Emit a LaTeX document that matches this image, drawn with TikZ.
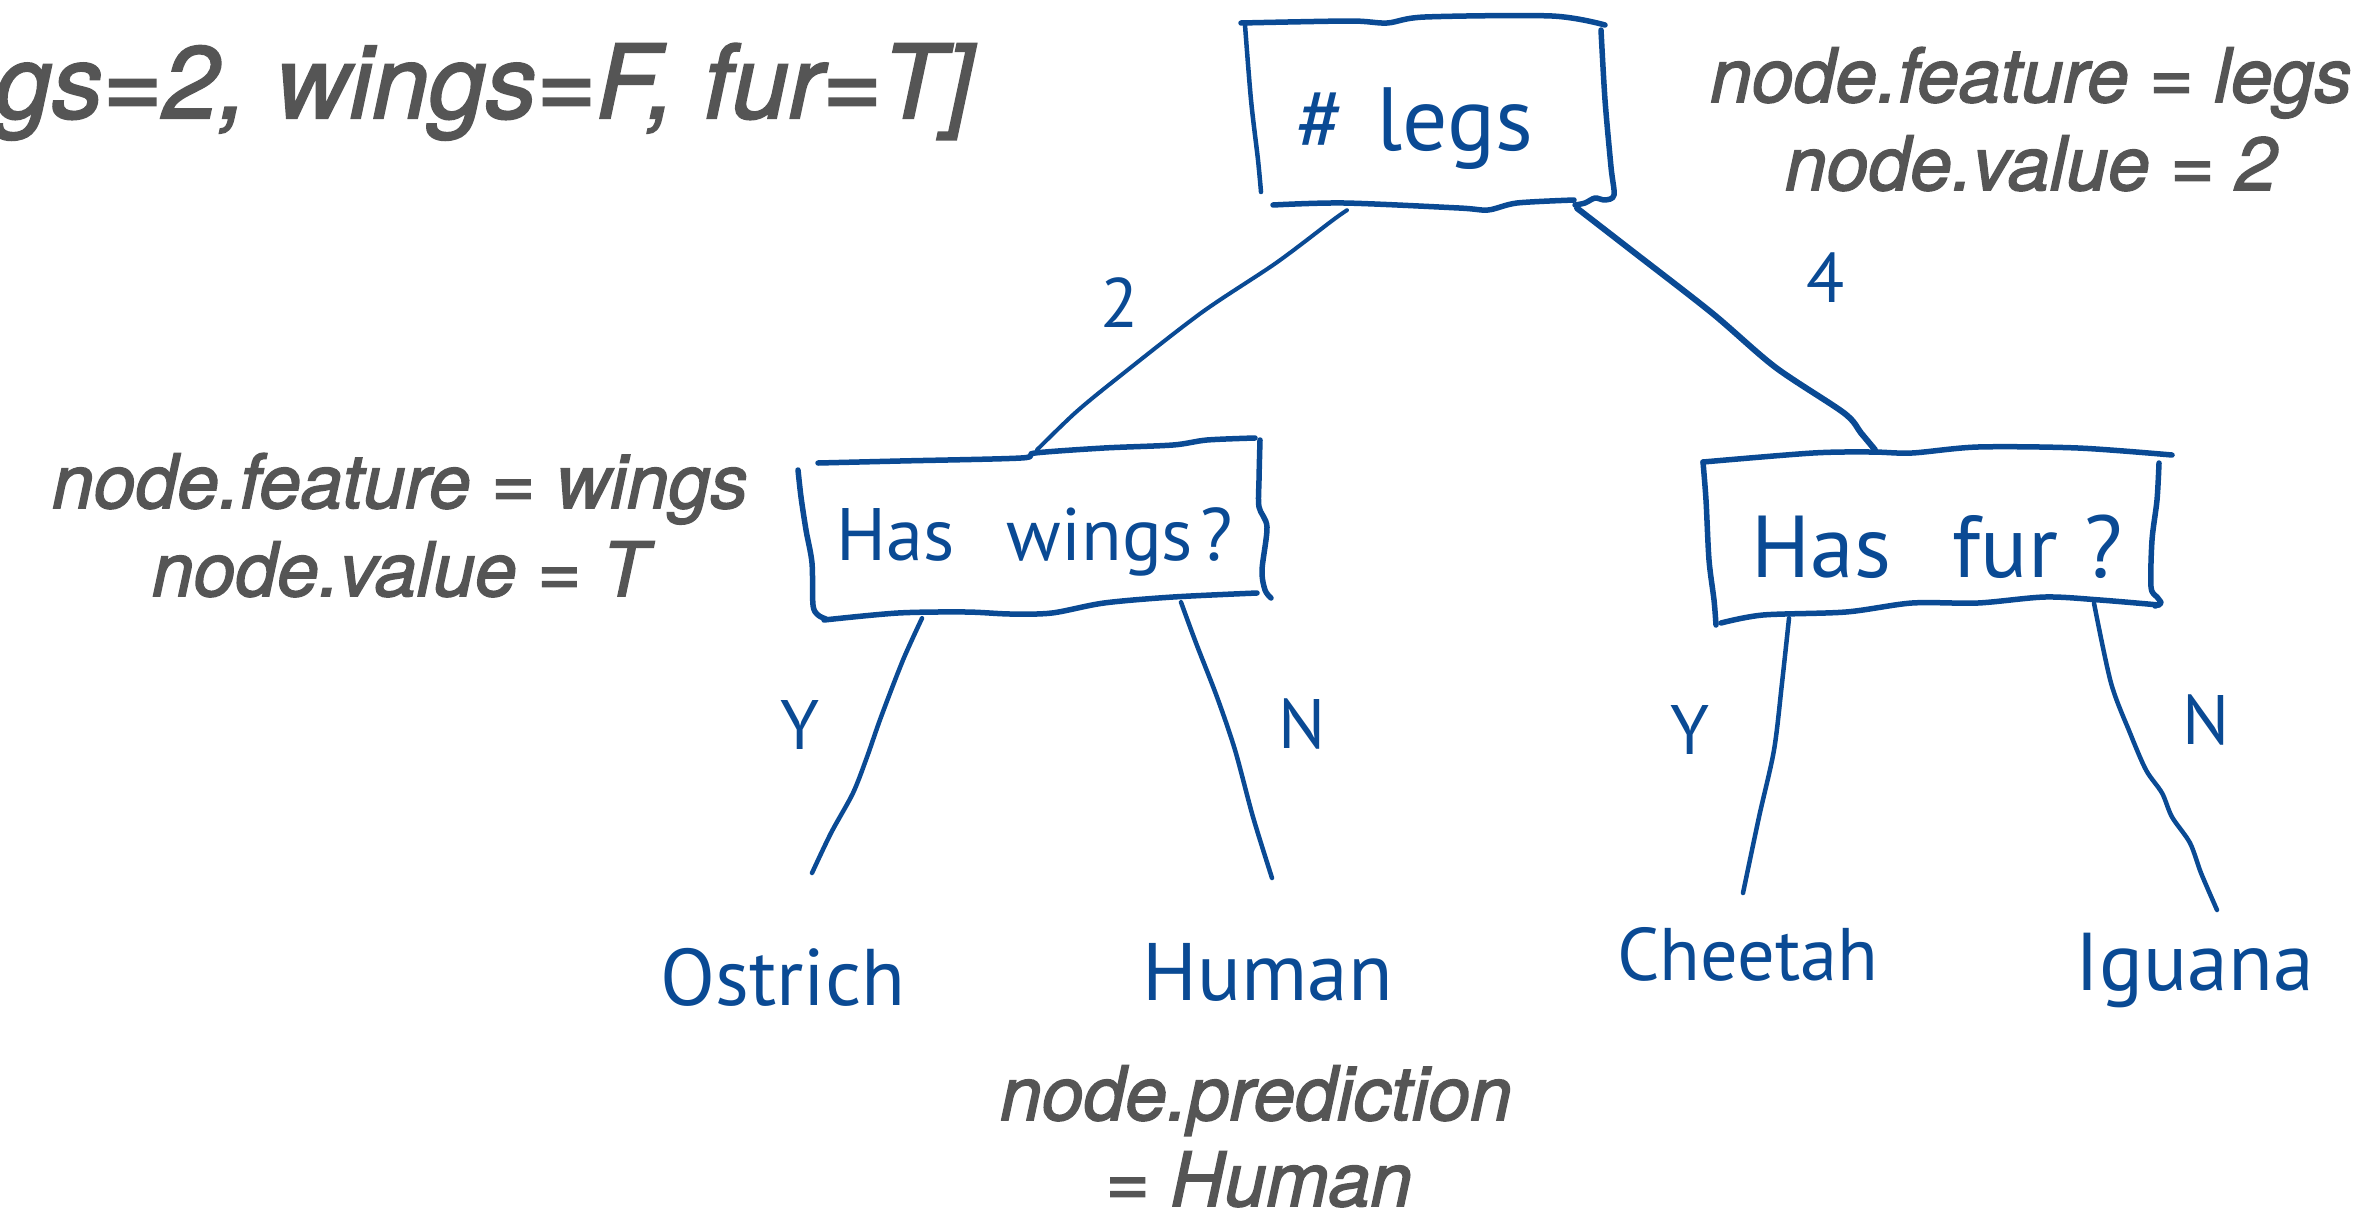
\documentclass[tikz,border=0pt]{standalone}
\usepackage{fontspec}
\usepackage{graphicx}
\setmainfont{TeX Gyre Heros}
\newfontfamily\notefont{TeX Gyre Heros}[FakeBold=2]
\newfontfamily\handfont{PT Sans}
\usetikzlibrary{calc}

\definecolor{inkblue}{RGB}{10,74,148}
\definecolor{notegray}{RGB}{85,85,85}

\tikzset{
  ink/.style={draw=inkblue, line width=5.5pt, line cap=round, line join=round},
  branch/.style={draw=inkblue, line width=4.5pt, line cap=round, line join=round},
  note/.style={text=notegray, inner sep=0pt, anchor=base,
    font=\notefont\itshape\fontsize{75}{88}\selectfont},
  hand/.style={text=inkblue, inner sep=0pt, font=\handfont},
  leaf/.style={hand, anchor=base},
  answer/.style={hand, font=\handfont\fontsize{70}{70}\selectfont},
  question/.style={hand, draw=none},
}

\begin{document}
\begin{tikzpicture}[x=1pt,y=-1pt]
  \fill[white] (0,0) rectangle (2377,1218);
  \useasboundingbox (0,0) rectangle (2377,1218);

  % query record, partly outside the page on the left
  \node[note, anchor=base east, font=\notefont\itshape\fontsize{102}{110}\selectfont]
    (query) at (973,118) {gs=2, wings=F, fur=T]};

  % decision nodes
  \node[question, minimum width=360pt, minimum height=180pt,
        text height=100pt, text depth=24pt] (root) at (1430,112)
        {\hspace*{-30pt}\resizebox{237pt}{!}{\#\hspace{0.35em}legs}};
  \node[question, minimum width=473pt, minimum height=182pt,
        text height=100pt, text depth=38pt] (wings) at (1035,529)
        {\resizebox{396pt}{!}{Has\hspace{0.7em}wings\hspace{0.1em}?}};
  \node[question, minimum width=469pt, minimum height=178pt,
        text height=100pt, text depth=18pt] (fur) at (1937,536)
        {\resizebox{371pt}{!}{Has\hspace{0.7em}fur\hspace{0.3em}?}};

  % hand-drawn outlines of the decision boxes
  \begin{scope}[shift={(root.center)}]
    \draw[ink] plot[smooth] coordinates {(-189,-89) (-80,-91) (-43,-89) (-5,-95) (122,-96) (175,-87)};
    \draw[ink, line width=4.5pt] plot[smooth] coordinates {(-185,-87) (-179,-12) (-172,48) (-169,80)};
    \draw[ink] plot[smooth] coordinates {(171,-82) (175,-12) (181,55) (184,83) (175,88) (165,86) (155,91) (145,93)};
    \draw[ink] plot[smooth] coordinates {(-157,93) (-86,91) (29,96) (58,98) (87,91) (144,88)};
  \end{scope}
  \begin{scope}[shift={(wings.center)}]
    \draw[ink] plot[smooth] coordinates {(-217,-66) (-135,-68) (-14,-71) (0,-76) (69,-81) (138,-84) (172,-89) (220,-91)};
    \draw[ink] plot[smooth] coordinates {(-237,-59) (-234,-32) (-229,1) (-223,34) (-222,76) (-217,86) (-209,90)};
    \draw[ink] plot[smooth] coordinates {(225,-89) (224,-49) (224,-22) (232,-2) (227,41) (230,61) (236,69)};
    \draw[ink] plot[smooth] coordinates {(-211,91) (-137,84) (-69,83) (-25,85) (17,84) (69,74) (138,68) (222,64)};
  \end{scope}
  \begin{scope}[shift={(fur.center)}]
    \draw[ink] plot[smooth] coordinates {(-234,-74) (-124,-83) (-65,-84) (-25,-83) (41,-89) (141,-88) (235,-81)};
    \draw[ink] plot[smooth] coordinates {(-234,-74) (-231,-36) (-228,24) (-223,64) (-221,89)};
    \draw[ink] plot[smooth] coordinates {(222,-73) (220,-36) (215,4) (214,51) (220,61) (224,67) (218,70)};
    \draw[ink] plot[smooth] coordinates {(-216,87) (-174,79) (-91,76) (-25,67) (41,67) (108,61) (163,64) (222,69)};
  \end{scope}

  % leaves
  \node[leaf] (ostrich) at (783,1005) {\resizebox{245pt}{!}{Ostrich}};
  \node[leaf] (human)   at (1268,1000) {\resizebox{250pt}{!}{Human}};
  \node[leaf] (cheetah) at (1748,980) {\resizebox{261pt}{!}{Cheetah}};
  \node[leaf] (iguana)  at (2195,990) {\resizebox{238pt}{!}{Iguana}};

  % branches
  \draw[branch, line width=4pt] plot[smooth] coordinates {([shift={(-83,8)}]root.south)
    (1333,220) (1276,263) (1201,313) (1115,380) (1075,413) ([shift={(2,12)}]wings.north)};
  \draw[branch, line width=6pt] plot[smooth] coordinates {([shift={(147,6)}]root.south)
    (1631,250) (1712,313) (1775,367) (1844,413) (1861,433) ([shift={(-62,3)}]fur.north)};
  \draw[branch] plot[smooth] coordinates {([shift={(-113,-2)}]wings.south)
    (903,660) (881,717) (867,757) (853,793) (831,833) ([shift={(29,-132)}]ostrich.base)};
  \draw[branch] plot[smooth] coordinates {([shift={(146,-18)}]wings.south)
    (1196,643) (1217,697) (1235,750) (1253,817) ([shift={(4,-122)}]human.base)};
  \draw[branch] plot[smooth] coordinates {([shift={(-148,-7)}]fur.south)
    (1782,683) (1774,750) (1759,817) ([shift={(-5,-87)}]cheetah.base)};
  \draw[branch] plot[smooth] coordinates {([shift={(157,-22)}]fur.south)
    (2111,683) (2130,733) (2146,770) (2162,793) (2172,817) (2190,843) (2201,873)
    ([shift={(22,-80)}]iguana.base)};

  % branch values
  \node[answer] (two)    at (1120,303) {2};
  \node[answer] (four)   at (1826,278) {4};
  \node[answer] (wyes)   at (800,725)  {Y};
  \node[answer] (wno)    at (1302,724) {N};
  \node[answer] (fyes)   at (1690,730) {Y};
  \node[answer] (fno)    at (2206,720) {N};

  % node attributes
  \node[note] (rootfeat)  at (2031,102)  {node.feature = legs};
  \node[note] (rootval)   at (2031,190)  {node.value = 2};
  \node[note] (wingsfeat) at (400,508)   {node.feature = wings};
  \node[note] (wingsval)  at (400,596)   {node.value = T};
  \node[note] (predline)  at (1256,1120) {node.prediction};
  \node[note] (predval)   at (1259,1206) {= Human};
\end{tikzpicture}
\end{document}
